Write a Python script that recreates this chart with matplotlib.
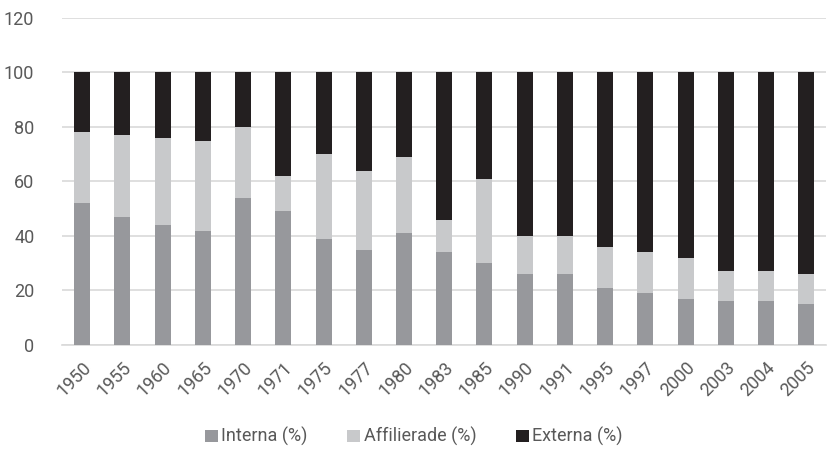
import matplotlib
matplotlib.use("Agg")
import matplotlib.pyplot as plt
import numpy as np

years = ["1950", "1955", "1960", "1965", "1970", "1971", "1975", "1977", "1980", "1983",
         "1985", "1990", "1991", "1995", "1997", "2000", "2003", "2004", "2005"]
interna = [52, 47, 44, 42, 54, 49, 39, 35, 41, 34, 30, 26, 26, 21, 19, 17, 16, 16, 15]
affilierade = [26, 30, 32, 33, 26, 13, 31, 29, 28, 12, 31, 14, 14, 15, 15, 15, 11, 11, 11]
externa = [22, 23, 24, 25, 20, 38, 30, 36, 31, 54, 39, 60, 60, 64, 66, 68, 73, 73, 74]
yticks = [0, 20, 40, 60, 80, 100, 120]

plt.rcParams['font.family'] = ['Roboto', 'DejaVu Sans']

fig = plt.figure(figsize=(8.28, 4.57), dpi=100)
ax = fig.add_axes([0.075, 0.245, 0.923, 0.716])

x = np.arange(len(years))
w = 0.4
c1, c2, c3 = "#97989c", "#c8c9cb", "#231f20"
b1 = ax.bar(x, interna, w, color=c1, label="Interna (%)", zorder=3)
b2 = ax.bar(x, affilierade, w, bottom=interna, color=c2, label="Affilierade (%)", zorder=3)
bot = np.array(interna) + np.array(affilierade)
b3 = ax.bar(x, externa, w, bottom=bot, color=c3, label="Externa (%)", zorder=3)

ax.set_xlim(-0.5, len(years) - 0.5)
ax.set_ylim(0, 120)
ax.set_yticks(yticks)
ax.yaxis.grid(True, color="#d9d9d9", linewidth=1.2, zorder=0)
ax.set_axisbelow(True)
for s in ["top", "right", "left"]:
    ax.spines[s].set_visible(False)
ax.spines["bottom"].set_color("#d9d9d9")
ax.spines["bottom"].set_linewidth(1.2)
ax.tick_params(axis="both", length=0, labelsize=13, colors="#595959")
ax.tick_params(axis="y", pad=20)
ax.set_xticks(x)
ax.set_xticklabels(years, rotation=45, ha="right", rotation_mode="anchor")
ax.tick_params(axis="x", pad=10)

fig.legend(handles=[b1, b2, b3], loc="center", bbox_to_anchor=(0.5, 0.044), ncol=3,
           frameon=False, fontsize=13, handlelength=0.7, handleheight=0.7,
           handletextpad=0.2, columnspacing=2.2, labelcolor="#595959")

fig.savefig("out.png", dpi=100)
